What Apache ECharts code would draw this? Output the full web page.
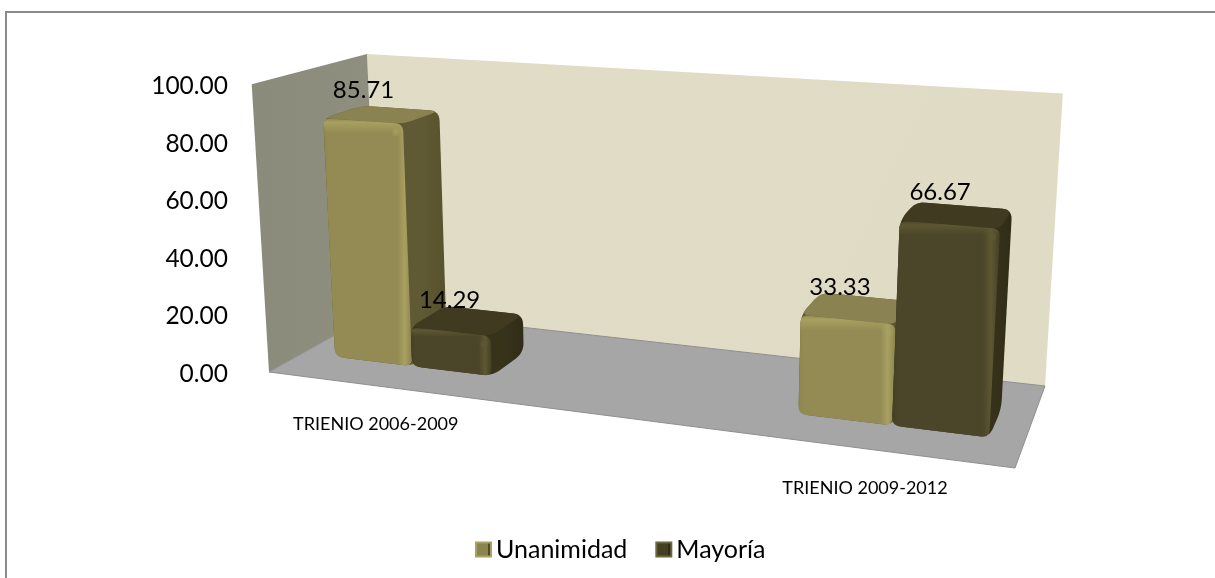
<!DOCTYPE html>
<html>
<head>
<meta charset="utf-8">
<script src="https://cdn.jsdelivr.net/npm/echarts@6/dist/echarts.min.js"></script>
<style>
html,body{margin:0;padding:0;background:#fff}
#chart{width:1215px;height:578px}
</style>
</head>
<body>
<div id="chart"></div>
<script>
var categories = ['TRIENIO 2006-2009', '', 'TRIENIO 2009-2012'];
var unanimidad = [85.71, null, 33.33];
var mayoria = [14.29, null, 66.67];
var yTicks = [0, 20, 40, 60, 80, 100];

var FONT = 'Lato';
var G = echarts.graphic;

// floor corners of the 3d box on screen, and where the vertical edges meet
var FLOOR = [[269, 372], [1015, 468], [1045, 386], [378, 311]];
var VANISH = [655, 6793];
var BACK_TOP_Y = 54;

function floorMatrix(q) {
    var dx1 = q[1][0] - q[2][0], dx2 = q[3][0] - q[2][0], sx = q[0][0] - q[1][0] + q[2][0] - q[3][0];
    var dy1 = q[1][1] - q[2][1], dy2 = q[3][1] - q[2][1], sy = q[0][1] - q[1][1] + q[2][1] - q[3][1];
    var det = dx1 * dy2 - dx2 * dy1;
    var g = (sx * dy2 - dx2 * sy) / det;
    var h = (dx1 * sy - sx * dy1) / det;
    return {
        a: q[1][0] - q[0][0] + g * q[1][0], b: q[3][0] - q[0][0] + h * q[3][0], c: q[0][0],
        d: q[1][1] - q[0][1] + g * q[1][1], e: q[3][1] - q[0][1] + h * q[3][1], f: q[0][1],
        g: g, h: h
    };
}
var M = floorMatrix(FLOOR);
var wBackLeft = 1 + M.h;
var T = wBackLeft * (FLOOR[3][1] - BACK_TOP_Y) / (BACK_TOP_Y - VANISH[1]);

// u: along the axis, v: height, d: depth (0 front, 1 back wall)
function project(u, v, d) {
    var t = T * v;
    var x = M.a * u + M.b * d + M.c + t * VANISH[0];
    var y = M.d * u + M.e * d + M.f + t * VANISH[1];
    var w = M.g * u + M.h * d + 1 + t;
    return [x / w, y / w];
}

// polygon with its corners rounded, sampled so it stays a plain polygon
function rounded(pts, r) {
    var out = [], n = pts.length;
    for (var i = 0; i < n; i++) {
        var p = pts[i], a = pts[(i + n - 1) % n], b = pts[(i + 1) % n];
        var la = Math.hypot(a[0] - p[0], a[1] - p[1]), lb = Math.hypot(b[0] - p[0], b[1] - p[1]);
        var ra = Math.min(r, la / 2) / la, rb = Math.min(r, lb / 2) / lb;
        var s = [p[0] + (a[0] - p[0]) * ra, p[1] + (a[1] - p[1]) * ra];
        var e = [p[0] + (b[0] - p[0]) * rb, p[1] + (b[1] - p[1]) * rb];
        for (var k = 0; k <= 6; k++) {
            var t = k / 6, m = 1 - t;
            out.push([m * m * s[0] + 2 * m * t * p[0] + t * t * e[0], m * m * s[1] + 2 * m * t * p[1] + t * t * e[1]]);
        }
    }
    return out;
}

function lin(x0, y0, x1, y1, stops) {
    return new G.LinearGradient(x0, y0, x1, y1, stops.map(function (s) { return { offset: s[0], color: s[1] }; }));
}

var PAL_U = { edge: '#8c844e', front: '#948b54', light: '#a8a060', clear: 'rgba(168,160,96,0)', top: '#8a8250', side: '#5f5a33', sideDark: '#57522d', swatchEdge: '#aaa262', swatchDark: '#4f4a28' };
var PAL_M = { edge: '#443f23', front: '#4b4529', light: '#5d5733', clear: 'rgba(93,87,51,0)', top: '#3f3a20', side: '#37331b', sideDark: '#302c17', swatchEdge: '#6b6540', swatchDark: '#2f2b15' };

var BAR_W = 0.36;    // one bar, as a share of the category band
var D_FRONT = 0.29, D_BACK = 0.64;
var U_SHIFT = 0.004;

function barItem(pal, seriesIndex) {
    return function (params, api) {
        var val = api.value(1);
        if (val == null || isNaN(val)) return null;
        var cs = params.coordSys;
        var pt = api.coord([api.value(0), val]);
        var band = api.size([1, 0])[0];
        var bw = band * BAR_W / cs.width;
        var c = (pt[0] - cs.x) / cs.width + U_SHIFT;
        var u0 = seriesIndex === 0 ? c - bw : c;
        var u1 = u0 + bw;
        var v = (cs.y + cs.height - pt[1]) / cs.height;

        var fbl = project(u0, 0, D_FRONT), fbr = project(u1, 0, D_FRONT);
        var ftl = project(u0, v, D_FRONT), ftr = project(u1, v, D_FRONT);
        var bbr = project(u1, 0, D_BACK);
        var btl = project(u0, v, D_BACK), btr = project(u1, v, D_BACK);

        var hull = rounded([fbl, fbr, bbr, btr, btl, ftl], 10);
        var front = rounded([ftl, ftr, fbr, fbl], 8);
        var topFace = rounded([ftl, ftr, btr, btl], 9);
        var fh = fbr[1] - ftr[1];
        var bevel = Math.min(0.2, 14 / fh);
        var glint = [ftr[0] - 7, ftr[1] + 8];
        var lu = (u0 + u1) / 2;
        var label = project(lu, v, 0.3);

        return {
            type: 'group',
            children: [
                { type: 'polygon', shape: { points: hull }, style: { fill: lin(0, 0, 1, 0, [[0, pal.side], [0.8, pal.side], [1, pal.sideDark]]) } },
                { type: 'polygon', shape: { points: topFace }, style: { fill: pal.top } },
                { type: 'polygon', shape: { points: front }, style: {
                    fill: lin(0, 0, 1, 0, [[0, pal.edge], [0.05, pal.front], [0.84, pal.front], [0.92, pal.light], [1, pal.edge]])
                } },
                { type: 'polygon', shape: { points: front }, style: {
                    fill: lin(0, 0, 0, 1, [[0, pal.clear], [bevel * 0.25, pal.light], [bevel, pal.clear], [1, pal.clear]])
                } },
                { type: 'circle', shape: { cx: glint[0], cy: glint[1], r: 5 }, style: {
                    fill: new G.RadialGradient(0.5, 0.5, 0.5, [{ offset: 0, color: pal.light }, { offset: 1, color: pal.clear }])
                } },
                { type: 'text', z2: 50, style: {
                    x: label[0] + 1 - 12 * lu, y: label[1] - 30 - 2 * lu, text: val.toFixed(2), align: 'center', verticalAlign: 'middle',
                    font: '24px ' + FONT, fill: '#000'
                } }
            ]
        };
    };
}

function wallsItem(params, api) {
    var bl = project(0, 0, 1), br = project(1, 0, 1), tl = project(0, 1, 1), tr = project(1, 1, 1);
    var fl = project(0, 0, 0), fr = project(1, 0, 0), ftl = project(0, 1, 0);
    return {
        type: 'group',
        children: [
            { type: 'polygon', shape: { points: [tl, tr, br, bl] }, style: { fill: lin(0, 0, 1, 1, [[0, '#e1dcc6'], [1, '#e0dbc4']]) } },
            { type: 'polygon', shape: { points: [ftl, tl, bl, fl] }, style: { fill: lin(0, 0, 1, 0, [[0, '#8a8b7b'], [1, '#8f8f80']]) } },
            { type: 'polygon', shape: { points: [fl, fr, br, bl] }, style: { fill: '#a6a6a6', stroke: '#8f8f8f', lineWidth: 1 } }
        ]
    };
}

function axisLabelItem(params, api) {
    var name = categories[params.dataIndex];
    var cs = params.coordSys;
    var pt = api.coord([params.dataIndex, 0]);
    var u = (pt[0] - cs.x) / cs.width;
    var p = project(u, 0, 0);
    return {
        type: 'text',
        style: {
            x: p[0] - 5.75 + (0.5 - u) * 9.76, y: p[1] + 38, text: name, align: 'center', verticalAlign: 'middle',
            font: '18px ' + FONT, fill: '#000'
        }
    };
}

function pairs(values) {
    return categories.map(function (c, i) { return [i, values[i]]; });
}

function legendEntry(name, pal) {
    return {
        name: name,
        itemStyle: {
            color: lin(0, 0, 1, 0, [[0, pal.edge], [0.75, pal.edge], [0.76, pal.swatchDark], [1, pal.swatchDark]]),
            borderColor: pal.swatchEdge, borderWidth: 2
        }
    };
}

var chart = echarts.init(document.getElementById('chart'), null, { renderer: 'canvas' });
var option = {
    animation: false,
    backgroundColor: '#fff',
    textStyle: { fontFamily: FONT },
    grid: { left: 240, top: 86, width: 760, height: 288 },
    xAxis: { type: 'category', data: categories, show: false },
    yAxis: {
        type: 'value', min: yTicks[0], max: yTicks[yTicks.length - 1], interval: 20,
        axisLine: { show: false }, axisTick: { show: false }, splitLine: { show: false },
        axisLabel: { margin: 12, fontSize: 24.5, color: '#000', fontFamily: FONT, formatter: function (v) { return v.toFixed(2); } }
    },
    legend: {
        data: [legendEntry('Unanimidad', PAL_U), legendEntry('Mayoría', PAL_M)],
        left: 470, top: 532, itemWidth: 15, itemHeight: 14, itemGap: 28, icon: 'rect',
        textStyle: { fontSize: 25, color: '#000', fontFamily: FONT }
    },
    graphic: [
        { type: 'polyline', silent: true, shape: { points: [[6, 578], [6, 12], [1215, 12]] }, style: { fill: null, stroke: '#8a8a8a', lineWidth: 2 } }
    ],
    series: [
        { type: 'custom', name: 'walls', coordinateSystem: 'cartesian2d', silent: true, z: 1, data: [[0, 0]], encode: { x: 0, y: 1 }, renderItem: wallsItem },
        { type: 'custom', name: 'ejes', coordinateSystem: 'cartesian2d', silent: true, z: 1, data: pairs([0, 0, 0]), encode: { x: 0, y: 1 }, renderItem: axisLabelItem },
        { type: 'custom', name: 'Unanimidad', coordinateSystem: 'cartesian2d', z: 2, data: pairs(unanimidad), encode: { x: 0, y: 1 },
            itemStyle: { color: PAL_U.front }, renderItem: barItem(PAL_U, 0) },
        { type: 'custom', name: 'Mayoría', coordinateSystem: 'cartesian2d', z: 3, data: pairs(mayoria), encode: { x: 0, y: 1 },
            itemStyle: { color: PAL_M.front }, renderItem: barItem(PAL_M, 1) }
    ]
};
chart.setOption(option);
</script>
</body>
</html>
